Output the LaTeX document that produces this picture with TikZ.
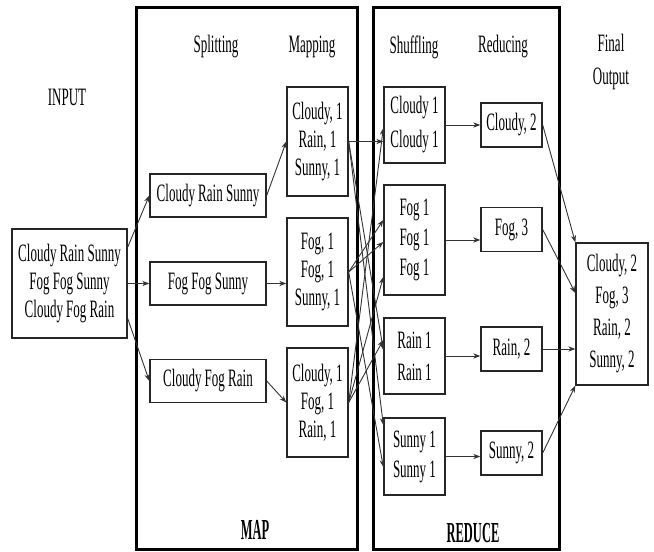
\documentclass[tikz,border=0pt]{standalone}
\usepackage{fontspec}
\setmainfont[FakeStretch=0.52]{Liberation Serif}
\newfontfamily\capfont[FakeStretch=0.43]{Liberation Serif}
\usetikzlibrary{arrows.meta, calc}

\begin{document}
\begin{tikzpicture}[x=0.5pt,y=-0.5pt,
          box/.style={draw=black!85,line width=0.7pt,align=center,inner sep=0pt,
                      font=\fontsize{12.5}{14}\selectfont},
          lbl/.style={align=center,font=\fontsize{12.5}{16.5}\selectfont},
          phase/.style={font=\capfont\bfseries\fontsize{14.5}{16}\selectfont},
          frame/.style={draw,line width=1.5pt},
          arr/.style={-{Stealth[length=3.5pt,width=2.6pt]},line width=0.45pt,black!80}]
        \useasboundingbox (0,0) rectangle (654,552);
        % map and reduce frames
        \draw[frame] (136.5,7) rectangle (357,549);
        \draw[frame] (373,7) rectangle (559,549);
        % column titles
        \node[lbl](linput) at (67,97){INPUT};
        \node[lbl](lsplit) at (216,47){Splitting};
        \node[lbl](lmap) at (312,47){Mapping};
        \node[lbl](lshuf) at (414,47){Shuffling};
        \node[lbl](lred) at (503,47){Reducing};
        \node[lbl](lfinal) at (611,62){Final\\Output};
        \node[phase](lMAP) at (255,530){MAP};
        \node[phase](lREDUCE) at (473,533){REDUCE};
        % input and splitting
        \node[box,minimum width=57.5pt,minimum height=54.5pt](in) at (69.5,283.5)
             {Cloudy Rain Sunny\\Fog Fog Sunny\\Cloudy Fog Rain};
        \node[box,minimum width=58pt,minimum height=21.5pt](sp1) at (208,195.5){Cloudy Rain Sunny};
        \node[box,minimum width=58pt,minimum height=21.5pt](sp2) at (208,283.5){Fog Fog Sunny};
        \node[box,minimum width=58pt,minimum height=21.5pt](sp3) at (208,381){Cloudy Fog Rain};
        % mapping
        \node[box,minimum width=30.5pt,minimum height=54.5pt](mp1) at (317.5,141.5){Cloudy, 1\\Rain, 1\\Sunny, 1};
        \node[box,minimum width=30.5pt,minimum height=54pt](mp2) at (317.5,272){Fog, 1\\Fog, 1\\Sunny, 1};
        \node[box,minimum width=30.5pt,minimum height=54.5pt](mp3) at (317.5,402.5){Cloudy, 1\\Fog, 1\\Rain, 1};
        % shuffling
        \node[box,minimum width=30.5pt,minimum height=38pt,font=\fontsize{12.5}{17}\selectfont](sh1) at (414.5,125){Cloudy 1\\Cloudy 1};
        \node[box,minimum width=30.5pt,minimum height=55pt,font=\fontsize{12.5}{15}\selectfont](sh2) at (414.5,240){Fog 1\\Fog 1\\Fog 1};
        \node[box,minimum width=30.5pt,minimum height=38pt,font=\fontsize{12.5}{16}\selectfont](sh3) at (414.5,356){Rain 1\\Rain 1};
        \node[box,minimum width=30.5pt,minimum height=38.5pt,font=\fontsize{12.5}{15}\selectfont](sh4) at (414.5,456.5){Sunny 1\\Sunny 1};
        % reducing
        \node[box,minimum width=30.5pt,minimum height=22pt](rd1) at (511.5,125){Cloudy, 2};
        \node[box,minimum width=30.5pt,minimum height=22pt](rd2) at (511.5,229.5){Fog, 3};
        \node[box,minimum width=30.5pt,minimum height=22pt](rd3) at (511.5,349){Rain, 2};
        \node[box,minimum width=30.5pt,minimum height=22pt](rd4) at (511.5,453){Sunny, 2};
        % final output
        \node[box,minimum width=36pt,minimum height=71pt,font=\fontsize{12.5}{16}\selectfont](out) at (612,314)
             {Cloudy, 2\\Fog, 3\\Rain, 2\\Sunny, 2};
        % connectors
        \draw[arr](in.32)--(sp1.west);
        \draw[arr](in.east)--(sp2.west);
        \draw[arr](in.-31)--(sp3.west);
        \draw[arr](sp1.east)--(mp1.west);
        \draw[arr](sp2.east)--(sp2.east -| mp2.west);
        \draw[arr](sp3.east)--(mp3.west);
        \draw[arr](mp1.east)--(mp1.east -| sh1.west);
        \foreach \from/\to/\dy in {mp1/sh3/-6, mp1/sh4/-31.5, mp2/sh2/-20, mp2/sh2/2,
                                   mp2/sh4/10.5, mp3/sh1/3, mp3/sh2/37, mp3/sh3/-16}
          \draw[arr](\from.east)--($(\to.west)+(0,\dy)$);
        \foreach \i in {1,...,4}
          \draw[arr](sh\i.east)--(sh\i.east -| rd\i.west);
        \draw[arr](rd1.east)--(out.north west);
        \draw[arr](rd2.east)--($(out.west)+(0,-21)$);
        \draw[arr](rd3.east)--(rd3.east -| out.west);
        \draw[arr](rd4.east)--(out.south west);
      \end{tikzpicture}
\end{document}
